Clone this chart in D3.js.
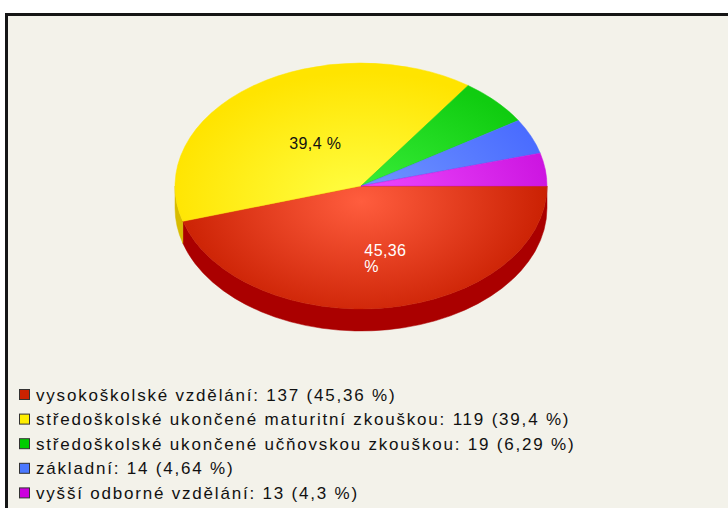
<!DOCTYPE html>
<html>
<head>
<meta charset="utf-8">
<script src="https://cdn.jsdelivr.net/npm/d3@7"></script>
<style>
  body { margin: 0; background: #fff; }
  svg { display: block; font-family: "Liberation Sans", Arial, sans-serif; }
</style>
</head>
<body>
<div id="chart"></div>
<script>
// data
const categories = [
  "vysokoškolské vzdělání",
  "středoškolské ukončené maturitní zkouškou",
  "středoškolské ukončené učňovskou zkouškou",
  "základní",
  "vyšší odborné vzdělání"
];
const counts = [137, 119, 19, 14, 13];
const percents = ["45,36", "39,4", "6,29", "4,64", "4,3"];

// barvy: horní plocha (střed / okraj), bok, legenda
const lightColors = ["#ff5d3e", "#ffff45", "#3cf03c", "#7398ff", "#ee4cff"];
const darkColors  = ["#c81e00", "#ffe400", "#10cc10", "#4a6cff", "#cc14e0"];
const sideColors  = ["#aa0000", "#d8bc00", "#009900", "#2a44cc", "#9900aa"];
const legendColors = ["#cc2200", "#ffee00", "#00cc00", "#4a78ff", "#cc00dd"];

const width = 728, height = 508;
const cx = 361, cy = 186, rx = 186, ry = 123, depth = 22;

const svg = d3.select("#chart").append("svg")
  .attr("width", width)
  .attr("height", height);

// rámeček
svg.append("rect")
  .attr("x", 6.5).attr("y", 14.5)
  .attr("width", width + 20).attr("height", height + 20)
  .attr("fill", "#f3f2ea")
  .attr("stroke", "#151515")
  .attr("stroke-width", 3);

const defs = svg.append("defs");
categories.forEach((c, i) => {
  const g = defs.append("radialGradient")
    .attr("id", "grad" + i)
    .attr("gradientUnits", "userSpaceOnUse")
    .attr("cx", cx).attr("cy", cy + 15)
    .attr("r", rx * 1.05)
    .attr("gradientTransform", `translate(${cx},${cy + 15}) scale(1,${ry / rx}) translate(${-cx},${-(cy + 15)})`);
  g.append("stop").attr("offset", "0%").attr("stop-color", lightColors[i]);
  g.append("stop").attr("offset", "100%").attr("stop-color", darkColors[i]);
});

// d3.pie: úhly po směru hodinových ručiček od 12 h, začátek ve 3 h
const pie = d3.pie().sort(null).value(d => d)
  .startAngle(Math.PI / 2).endAngle(Math.PI / 2 + 2 * Math.PI);
const arcs = pie(counts);

const px = (a) => cx + rx * Math.sin(a);
const py = (a, dy = 0) => cy - ry * Math.cos(a) + dy;

// boční stěny (viditelné jen vpředu: a v <PI/2, 3PI/2>)
const sideG = svg.append("g");
arcs.forEach((d, i) => {
  const a0 = Math.max(d.startAngle, Math.PI / 2);
  const a1 = Math.min(d.endAngle, 3 * Math.PI / 2);
  if (a1 <= a0) return;
  const large = (a1 - a0) > Math.PI ? 1 : 0;
  const p = `M${px(a0)},${py(a0)}`
    + ` A${rx},${ry} 0 ${large} 1 ${px(a1)},${py(a1)}`
    + ` L${px(a1)},${py(a1, depth)}`
    + ` A${rx},${ry} 0 ${large} 0 ${px(a0)},${py(a0, depth)} Z`;
  sideG.append("path").attr("d", p).attr("fill", sideColors[i])
    .attr("stroke", sideColors[i]).attr("stroke-width", 0.5);
});

// horní plochy
const topG = svg.append("g");
arcs.forEach((d, i) => {
  const a0 = d.startAngle, a1 = d.endAngle;
  const large = (a1 - a0) > Math.PI ? 1 : 0;
  const p = `M${cx},${cy} L${px(a0)},${py(a0)}`
    + ` A${rx},${ry} 0 ${large} 1 ${px(a1)},${py(a1)} Z`;
  topG.append("path").attr("d", p).attr("fill", `url(#grad${i})`)
    .attr("stroke", darkColors[i]).attr("stroke-width", 0.5);
});

// popisky (jen větší výseče)
const labelK = 0.42;
arcs.forEach((d, i) => {
  if ((d.endAngle - d.startAngle) / (2 * Math.PI) < 0.1) return;
  const a = (d.startAngle + d.endAngle) / 2;
  let x = cx + rx * labelK * Math.sin(a);
  let y = cy - ry * labelK * Math.cos(a);
  if (Math.cos(a) < 0) y += depth;
  const txt = svg.append("text")
    .attr("font-size", 16)
    .attr("letter-spacing", 0.4)
    .attr("fill", i === 0 ? "#fff" : "#111");
  if (i === 0) {
    // zalomený popisek
    x += 12;
    txt.attr("text-anchor", "start");
    txt.append("tspan").attr("x", x - 20).attr("y", y - 3).text(percents[i]);
    txt.append("tspan").attr("x", x - 20).attr("y", y + 13).text("%");
  } else {
    txt.attr("text-anchor", "middle")
      .attr("x", x).attr("y", y + 5)
      .text(percents[i] + " %");
  }
});

// legenda
const legend = svg.append("g");
categories.forEach((c, i) => {
  const y0 = 389 + i * 24.6;
  legend.append("rect")
    .attr("x", 19.5).attr("y", y0 + 0.5)
    .attr("width", 10).attr("height", 10)
    .attr("fill", legendColors[i])
    .attr("stroke", "#333").attr("stroke-width", 1);
  legend.append("text")
    .attr("x", 36).attr("y", y0 + 11.5)
    .attr("font-size", 17)
    .attr("letter-spacing", 1.8)
    .attr("fill", "#111")
    .text(`${c}: ${counts[i]} (${percents[i]} %)`);
});
</script>
</body>
</html>
